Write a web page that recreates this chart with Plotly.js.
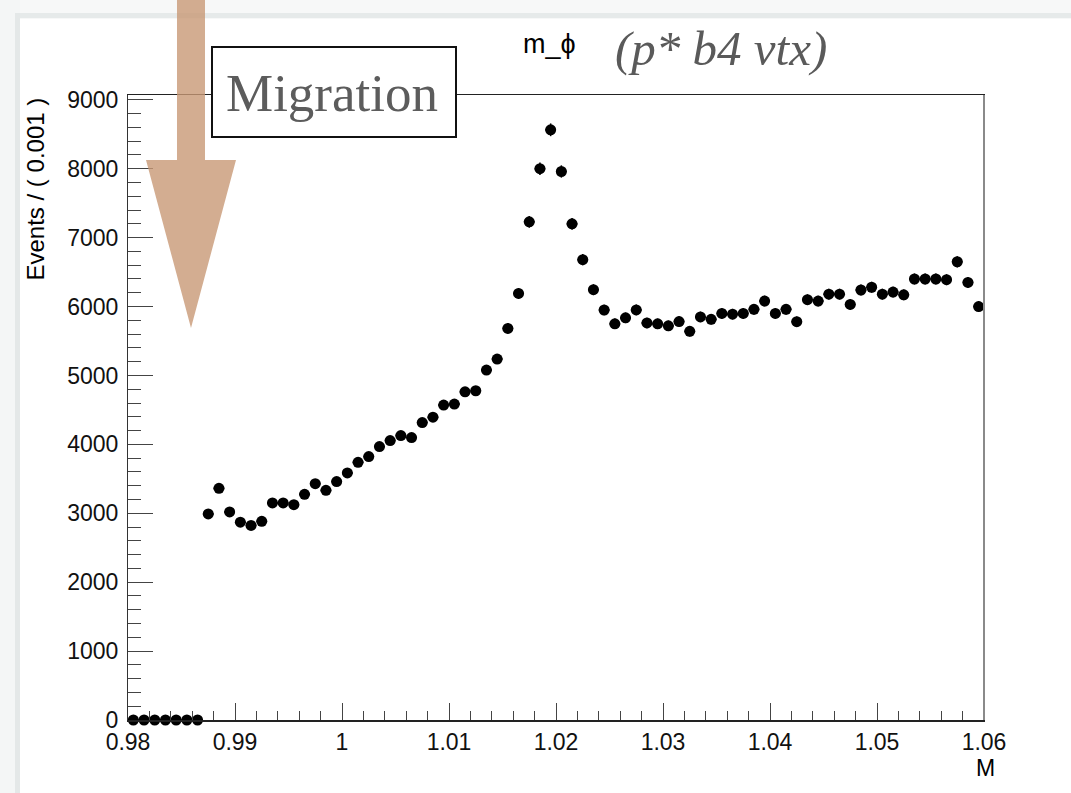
<!DOCTYPE html>
<html>
<head>
<meta charset="utf-8">
<script src="https://cdn.plot.ly/plotly-3.0.1.min.js"></script>
<style>
  html, body { margin: 0; padding: 0; background: #ffffff; }
  #chart { width: 1071px; height: 793px; }
</style>
</head>
<body>
<div id="chart"></div>
<script>
// Bin centres of M (bin width 0.001)
const massBins = [
  0.9805, 0.9815, 0.9825, 0.9835, 0.9845, 0.9855, 0.9865, 0.9875, 0.9885, 0.9895,
  0.9905, 0.9915, 0.9925, 0.9935, 0.9945, 0.9955, 0.9965, 0.9975, 0.9985, 0.9995,
  1.0005, 1.0015, 1.0025, 1.0035, 1.0045, 1.0055, 1.0065, 1.0075, 1.0085, 1.0095,
  1.0105, 1.0115, 1.0125, 1.0135, 1.0145, 1.0155, 1.0165, 1.0175, 1.0185, 1.0195,
  1.0205, 1.0215, 1.0225, 1.0235, 1.0245, 1.0255, 1.0265, 1.0275, 1.0285, 1.0295,
  1.0305, 1.0315, 1.0325, 1.0335, 1.0345, 1.0355, 1.0365, 1.0375, 1.0385, 1.0395,
  1.0405, 1.0415, 1.0425, 1.0435, 1.0445, 1.0455, 1.0465, 1.0475, 1.0485, 1.0495,
  1.0505, 1.0515, 1.0525, 1.0535, 1.0545, 1.0555, 1.0565, 1.0575, 1.0585, 1.0595
];

// Events per bin
const events = [
  0, 0, 0, 0, 0, 0, 0, 2990, 3362, 3019,
  2870, 2824, 2883, 3150, 3150, 3125, 3275, 3430, 3333, 3460,
  3585, 3740, 3823, 3968, 4055, 4128, 4099, 4317, 4395, 4570,
  4585, 4763, 4778, 5078, 5238, 5683, 6190, 7230, 8000, 8565,
  7960, 7200, 6680, 6245, 5950, 5750, 5836, 5951, 5762, 5749,
  5720, 5782, 5640, 5850, 5815, 5900, 5890, 5900, 5960, 6080,
  5900, 5960, 5780, 6100, 6080, 6180, 6180, 6030, 6240, 6280,
  6180, 6210, 6170, 6400, 6400, 6400, 6390, 6650, 6350, 6000
];

const binHalfWidth = 0.0005;

// Axis tick labels
const xTickVals = [0.98, 0.99, 1.00, 1.01, 1.02, 1.03, 1.04, 1.05, 1.06];
const xTickText = ["0.98", "0.99", "1", "1.01", "1.02", "1.03", "1.04", "1.05", "1.06"];
const yTickVals = [0, 1000, 2000, 3000, 4000, 5000, 6000, 7000, 8000, 9000];
const yTickText = ["0", "1000", "2000", "3000", "4000", "5000", "6000", "7000", "8000", "9000"];

// Minor tick positions between the labelled ticks
const xMinor = [];
for (let k = 0; k <= 40; k++) xMinor.push(+(0.98 + 0.002 * k).toFixed(4));
const yMinor = [];
for (let k = 0; k <= 45; k++) yMinor.push(200 * k);

// Plot frame in page pixels, used to place decorations in paper units
const W = 1071, H = 793;
const frame = { l: 128, r: 984, t: 95, b: 720 };
const px = p => (p - frame.l) / (frame.r - frame.l);
const py = p => (frame.b - p) / (frame.b - frame.t);

const sans = "Liberation Sans, Arial, Helvetica, sans-serif";
const serif = "Liberation Serif, Times New Roman, serif";

const trace = {
  type: "scatter",
  mode: "markers",
  x: massBins,
  y: events,
  cliponaxis: false,
  marker: { symbol: "circle", size: 11, color: "#000000" },
  error_y: { type: "data", array: events.map(v => Math.sqrt(v)), visible: true,
             color: "#000000", thickness: 1.5, width: 0 },
  error_x: { type: "constant", value: binHalfWidth, visible: true,
             color: "#000000", thickness: 2, width: 0 },
  hoverinfo: "x+y"
};

// Downward arrow drawn over the top-left corner of the plot
const arrowPath = [
  [177, 0], [205, 0], [205, 160], [236, 160], [191, 328], [146, 160], [177, 160]
].map((p, i) => (i === 0 ? "M" : "L") + px(p[0]).toFixed(5) + "," + py(p[1]).toFixed(5)).join(" ") + " Z";

const layout = {
  width: W,
  height: H,
  margin: { l: frame.l, r: W - frame.r, t: frame.t, b: H - frame.b, pad: 0 },
  paper_bgcolor: "#ffffff",
  plot_bgcolor: "#ffffff",
  showlegend: false,
  xaxis: {
    range: [0.98, 1.06],
    tickmode: "array",
    tickvals: xTickVals,
    ticktext: xTickText,
    ticks: "inside",
    ticklen: 17,
    tickwidth: 1,
    tickcolor: "#444444",
    ticklabelstandoff: 1,
    minor: { tickmode: "array", tickvals: xMinor, ticks: "inside", ticklen: 9, tickwidth: 1,
             tickcolor: "#444444", showgrid: false },
    showline: true,
    linecolor: "#222222",
    linewidth: 1.5,
    mirror: true,
    showgrid: false,
    zeroline: false,
    tickfont: { family: sans, size: 23, color: "#111111" }
  },
  yaxis: {
    range: [0, 9070],
    tickmode: "array",
    tickvals: yTickVals,
    ticktext: yTickText,
    ticks: "inside",
    ticklen: 25,
    tickwidth: 1,
    tickcolor: "#444444",
    ticklabelstandoff: 4,
    minor: { tickmode: "array", tickvals: yMinor, ticks: "inside", ticklen: 13, tickwidth: 1,
             tickcolor: "#444444", showgrid: false },
    showline: true,
    linecolor: "#333333",
    linewidth: 1,
    mirror: true,
    showgrid: false,
    zeroline: false,
    tickfont: { family: sans, size: 23, color: "#111111" }
  },
  shapes: [
    // slide edge shading (top and left)
    { type: "rect", xref: "paper", yref: "paper", x0: px(0), x1: px(W), y0: py(0), y1: py(19),
      fillcolor: "#f7f8f8", line: { width: 0 }, layer: "above" },
    { type: "rect", xref: "paper", yref: "paper", x0: px(0), x1: px(W), y0: py(13), y1: py(18),
      fillcolor: "#e6eaea", line: { width: 0 }, layer: "above" },
    { type: "rect", xref: "paper", yref: "paper", x0: px(0), x1: px(20), y0: py(0), y1: py(H),
      fillcolor: "#f4f6f6", line: { width: 0 }, layer: "above" },
    { type: "rect", xref: "paper", yref: "paper", x0: px(15), x1: px(20), y0: py(13), y1: py(H),
      fillcolor: "#e4e8e8", line: { width: 0 }, layer: "above" },
    // right edge of the frame
    { type: "line", xref: "paper", yref: "paper", x0: 1, x1: 1, y0: 0, y1: 1,
      line: { color: "#8a8a8a", width: 2 }, layer: "above" },
    // label box
    { type: "rect", xref: "paper", yref: "paper", x0: px(212), x1: px(456), y0: py(47), y1: py(137),
      fillcolor: "#ffffff", line: { color: "#111111", width: 2 }, layer: "above" },
    // arrow
    { type: "path", xref: "paper", yref: "paper", path: arrowPath,
      fillcolor: "rgba(200,152,118,0.8)", line: { width: 0 }, layer: "above" }
  ],
  annotations: [
    { text: "m_ϕ", xref: "paper", yref: "paper", x: px(521), y: py(44),
      xanchor: "left", yanchor: "middle", showarrow: false,
      font: { family: sans, size: 27, color: "#000000" } },
    { text: "(p* b4 vtx)", xref: "paper", yref: "paper", x: px(613), y: py(49),
      xanchor: "left", yanchor: "middle", showarrow: false,
      font: { family: serif, size: 49, color: "#5a5a5a", style: "italic" } },
    { text: "Migration", xref: "paper", yref: "paper", x: px(332), y: py(93),
      xanchor: "center", yanchor: "middle", showarrow: false,
      font: { family: serif, size: 53, color: "#5c5c5c" } },
    { text: "Events / ( 0.001 )", xref: "paper", yref: "paper", x: px(35), y: py(96),
      xanchor: "center", yanchor: "top", textangle: -90, showarrow: false,
      font: { family: sans, size: 24, color: "#000000" } },
    { text: "M", xref: "paper", yref: "paper", x: px(986), y: py(768),
      xanchor: "center", yanchor: "middle", showarrow: false,
      font: { family: sans, size: 23, color: "#000000" } }
  ]
};

Plotly.newPlot("chart", [trace], layout, { displayModeBar: false, staticPlot: true });
</script>
</body>
</html>
